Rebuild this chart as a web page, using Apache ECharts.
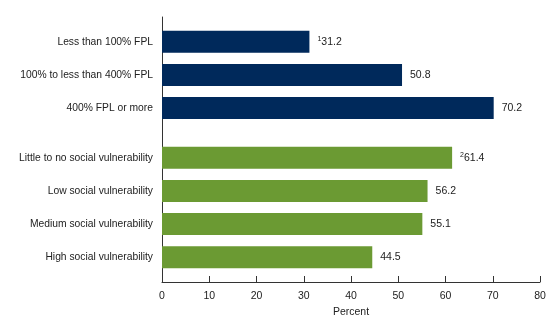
<!DOCTYPE html>
<html>
<head>
<meta charset="utf-8">
<script src="https://cdn.jsdelivr.net/npm/echarts@6/dist/echarts.min.js"></script>
<style>
  html, body { margin: 0; padding: 0; background: #fff; }
  #chart { width: 560px; height: 331px; }
</style>
</head>
<body>
<div id="chart"></div>
<script>
// Income group (percent of federal poverty level)
const incomeCategories = ['Less than 100% FPL', '100% to less than 400% FPL', '400% FPL or more'];
const incomeValues = [31.2, 50.8, 70.2];
const incomeNotes = ['1', '', ''];

// Social vulnerability group
const vulnCategories = ['Little to no social vulnerability', 'Low social vulnerability',
  'Medium social vulnerability', 'High social vulnerability'];
const vulnValues = [61.4, 56.2, 55.1, 44.5];
const vulnNotes = ['2', '', '', ''];

const xTicks = [0, 10, 20, 30, 40, 50, 60, 70, 80];

const NAVY = '#00295b';
const GREEN = '#6b9a33';

// Half-height slots: each bar sits on its own slot with a spacer slot between,
// and a wider spacer separates the two groups.
const slots = [];
function pushSpacer() { slots.push({ name: '', value: null }); }
function pushBar(name, value, note, color) {
  slots.push({ name: name, value: value, note: note, color: color });
}
pushSpacer();
incomeCategories.forEach((c, i) => {
  pushBar(c, incomeValues[i], incomeNotes[i], NAVY);
  pushSpacer();
});
pushSpacer();
vulnCategories.forEach((c, i) => {
  pushBar(c, vulnValues[i], vulnNotes[i], GREEN);
  if (i < vulnCategories.length - 1) pushSpacer();
});
pushSpacer();

const chart = echarts.init(document.getElementById('chart'), null, { renderer: 'canvas' });
const FONT = '"Liberation Sans", Arial, sans-serif';

chart.setOption({
  animation: false,
  backgroundColor: '#ffffff',
  grid: { left: 162, right: 20, top: 17, bottom: 49, containLabel: false },
  xAxis: {
    type: 'value',
    min: xTicks[0],
    max: xTicks[xTicks.length - 1],
    interval: 10,
    name: 'Percent',
    nameLocation: 'middle',
    nameGap: 25,
    nameTextStyle: { fontFamily: FONT, fontSize: 10.5, color: '#222' },
    axisLine: { show: true, lineStyle: { color: '#333', width: 1 } },
    axisTick: { show: true, inside: true, length: 6, lineStyle: { color: '#333' } },
    axisLabel: { fontFamily: FONT, fontSize: 10.5, color: '#222', margin: 9 },
    splitLine: { show: false }
  },
  yAxis: {
    type: 'category',
    inverse: true,
    data: slots.map(s => s.name),
    axisLine: { show: true, lineStyle: { color: '#333', width: 1 } },
    axisTick: { show: false },
    axisLabel: { fontFamily: FONT, fontSize: 10.3, color: '#222', margin: 9, interval: 0 },
    splitLine: { show: false }
  },
  series: [{
    type: 'bar',
    barWidth: 22,
    data: slots.map(s => s.value === null ? null : {
      value: s.value,
      note: s.note,
      itemStyle: { color: s.color }
    }),
    label: {
      show: true,
      position: 'right',
      distance: 8,
      fontFamily: FONT,
      fontSize: 10.5,
      color: '#222',
      formatter: p => (p.data.note ? '{sup|' + p.data.note + '}' : '') + p.value.toFixed(1),
      rich: {
        sup: { fontFamily: FONT, fontSize: 7, color: '#222', verticalAlign: 'top', padding: [0, 0, 5, 0] }
      }
    }
  }]
});
</script>
</body>
</html>
